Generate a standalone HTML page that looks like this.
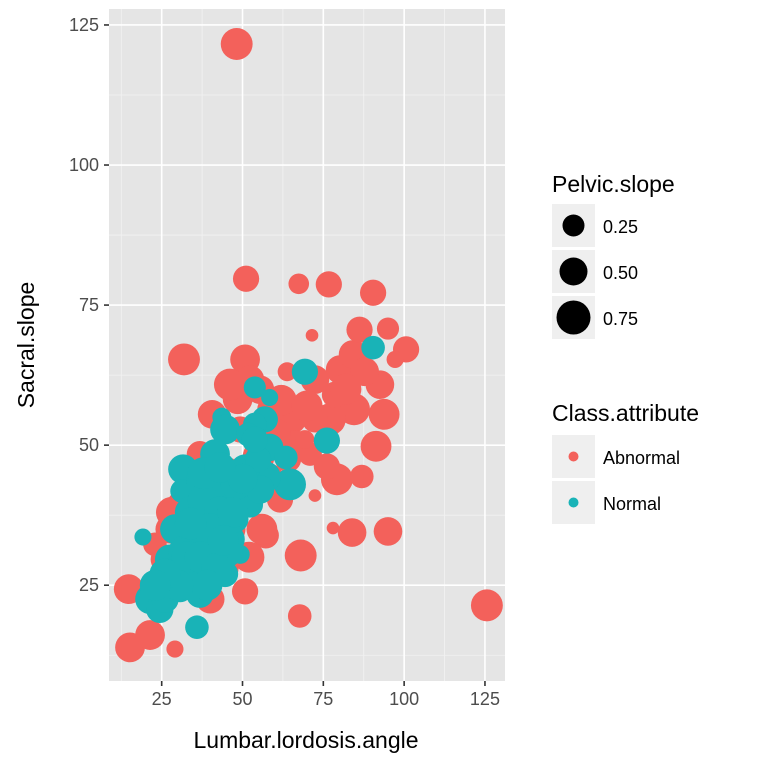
<!DOCTYPE html>
<html><head><meta charset="utf-8"><style>
body{margin:0;background:#fff;}
svg{display:block;font-family:"Liberation Sans",Arial,sans-serif;}
</style></head><body>
<svg id="chart" width="768" height="768" viewBox="0 0 768 768">
<rect x="0" y="0" width="768" height="768" fill="#fff"/>
<rect x="109" y="9" width="396" height="672" fill="#e5e5e5"/>
<g id="grid"></g>
<g id="pts"></g>
<g id="axes"></g>
<text x="306" y="748" font-size="23" text-anchor="middle" fill="#000">Lumbar.lordosis.angle</text>
<text transform="translate(34,345) rotate(-90)" font-size="23" text-anchor="middle" fill="#000">Sacral.slope</text>
<g>
<text x="552" y="192" font-size="23" fill="#000">Pelvic.slope</text>
<rect x="552" y="204" width="43" height="43" fill="#efefef"/>
<circle cx="573.5" cy="225.5" r="11" fill="#000"/>
<text x="603" y="233" font-size="18" fill="#000">0.25</text>
<rect x="552" y="250" width="43" height="43" fill="#efefef"/>
<circle cx="573.5" cy="271.5" r="14" fill="#000"/>
<text x="603" y="279" font-size="18" fill="#000">0.50</text>
<rect x="552" y="296" width="43" height="43" fill="#efefef"/>
<circle cx="573.5" cy="317.5" r="17" fill="#000"/>
<text x="603" y="325" font-size="18" fill="#000">0.75</text>
</g>
<g>
<text x="552" y="421" font-size="23" fill="#000">Class.attribute</text>
<rect x="552" y="435" width="43" height="43" fill="#efefef"/>
<circle cx="573.5" cy="456.5" r="5" fill="#f3615b"/>
<text x="603" y="464" font-size="18" fill="#000">Abnormal</text>
<rect x="552" y="481" width="43" height="43" fill="#efefef"/>
<circle cx="573.5" cy="502.5" r="5" fill="#19b3b7"/>
<text x="603" y="510" font-size="18" fill="#000">Normal</text>
</g>
</svg>
<script>
const xTicks=[25,50,75,100,125];
const yTicks=[25,50,75,100,125];
const xMinor=[12.5,37.5,62.5,87.5,112.5];
const yMinor=[12.5,37.5,62.5,87.5,112.5];
const redX=[48.2,51.1,67.4,76.7,90.4,71.5,95,100.6,31.9,125.6,68,67.7,83.9,95,78,50.8,29.1,15.2,14.8,21.4,72.4,91.3,93.8,92.5,79.2,86.9,76.1,84.5,77,72.4,80.2,84.2,87.8,78.6,65.3,64.1,66.2,70.9,63.8,59,50.8,48.5,52.3,40.6,46.1,55.4,64.7,61.6,57.2,41.2,30.7,27.5,26,22.9,69.3,49.3,40,33.7,86.2,97.2,72.4,36.8,45,55,60,42,50,58,35,28,62,70,82,56,46,38,44,52];
const redY=[121.6,79.7,78.8,78.7,77.2,69.6,70.8,67.1,65.3,21.4,30.3,19.5,34.4,34.6,35.2,23.9,13.6,13.9,24.3,16.1,41,49.8,55.5,60.8,43.9,44.4,46.2,56.4,54.6,61.7,63.5,66.2,63.1,59,54.6,47.5,50.1,48.4,63.1,56.4,65.3,58.2,61.7,55.5,60.8,59.9,42.1,40.3,33.9,32.1,39.4,35,29.6,32.3,51,52.8,22.5,27,70.6,65.3,54.6,48.4,45,48,52,38,42,44,42,38,58,57,60,35,35,30,28,30];
const redS=[0.65,0.4,0.2,0.4,0.4,0,0.25,0.4,0.65,0.65,0.65,0.3,0.5,0.5,0,0.4,0.1,0.55,0.55,0.55,0,0.6,0.6,0.5,0.65,0.3,0.4,0.65,0.65,0.5,0.5,0.5,0.5,0.4,0.5,0.4,0.5,0.3,0.15,0.5,0.55,0.55,0.5,0.5,0.65,0.5,0.15,0.4,0.4,0.4,0.4,0.5,0.5,0.3,0.15,0.4,0.5,0.5,0.4,0.1,0.4,0.4,0.65,0.65,0.65,0.6,0.65,0.6,0.6,0.6,0.6,0.6,0.6,0.6,0.65,0.65,0.6,0.6];
const normX=[90.4,69.3,76.1,53.8,58.4,56.9,53.8,43.6,44.6,51.7,58.4,63.4,64.7,56.9,31.6,31.3,19.2,21.4,24.4,35.9,36.8,30.7,27.5,36.8,41.5,46.1,50.8,36.8,41.5,46.1,40,35.3,30.7,47.6,52.3,49.3,44.6,54.8,29.1,26,41.5,53.8,55.4,34,38,43,48,32,36,40,45,28,33,37,42,47,39,44,50,34,30,26,23,38,43];
const normY=[67.4,63.1,50.8,60.3,58.5,54.6,53.7,55,52.8,51.9,49.6,47.8,43,44.3,45.7,41.8,33.6,22.5,20.7,17.5,23.4,28.7,29.6,33.2,36.8,40.3,45.7,43.9,42.1,33.2,29.6,27,24.3,36.8,39.4,30.5,27,47.5,35,22.5,48.4,51,42.1,38,40,38,43,31,34,35,31,27,30,30,28,38,25,33,44,36,25,27,25,45,46];
const normS=[0.3,0.4,0.4,0.25,0.1,0.4,0.3,0.15,0.55,0.3,0.45,0.3,0.65,0.65,0.55,0.3,0.1,0.55,0.45,0.3,0.45,0.55,0.55,0.65,0.65,0.65,0.55,0.45,0.65,0.55,0.55,0.45,0.4,0.45,0.4,0.15,0.4,0.4,0.55,0.45,0.55,0.4,0.5,0.65,0.65,0.65,0.6,0.65,0.65,0.65,0.65,0.6,0.65,0.65,0.6,0.6,0.6,0.6,0.55,0.65,0.6,0.6,0.6,0.65,0.6];
const X0=8.7,X1=131.2,Y0=7.9,Y1=127.85,L=109,R=505,T=9,B=681;
const sx=v=>L+(v-X0)/(X1-X0)*(R-L);
const sy=v=>B-(v-Y0)/(Y1-Y0)*(B-T);
const sr=v=>Math.sqrt(40+330*Math.max(0,v));
const NS='http://www.w3.org/2000/svg';
function mk(parent,tag,attrs){const e=document.createElementNS(NS,tag);for(const k in attrs)e.setAttribute(k,attrs[k]);parent.appendChild(e);return e;}
const grid=document.getElementById('grid');
xMinor.forEach(v=>{const l=mk(grid,'line',{x1:sx(v),x2:sx(v),y1:T,y2:B,stroke:'#f2f2f2','stroke-width':0.8});

});
yMinor.forEach(v=>{const l=mk(grid,'line',{x1:L,x2:R,y1:sy(v),y2:sy(v),stroke:'#f2f2f2','stroke-width':0.8});

});
xTicks.forEach(v=>{const l=mk(grid,'line',{x1:sx(v),x2:sx(v),y1:T,y2:B,stroke:'#fff','stroke-width':1.6});

});
yTicks.forEach(v=>{const l=mk(grid,'line',{x1:L,x2:R,y1:sy(v),y2:sy(v),stroke:'#fff','stroke-width':1.6});

});
const pts=document.getElementById('pts');
redX.forEach((v,i)=>{const c=mk(pts,'circle',{cx:sx(v),cy:sy(redY[i]),r:sr(redS[i]),fill:'#f3615b'});

});
normX.forEach((v,i)=>{const c=mk(pts,'circle',{cx:sx(v),cy:sy(normY[i]),r:sr(normS[i]),fill:'#19b3b7'});

});
const ax=document.getElementById('axes');
xTicks.forEach(v=>{mk(ax,'line',{x1:sx(v),x2:sx(v),y1:B,y2:B+5,stroke:'#333','stroke-width':1.6});
const t=mk(ax,'text',{x:sx(v),y:B+24,'font-size':18,'text-anchor':'middle',fill:'#4d4d4d'});t.textContent=v;

});
yTicks.forEach(v=>{mk(ax,'line',{x1:L-5,x2:L,y1:sy(v),y2:sy(v),stroke:'#333','stroke-width':1.6});
const t=mk(ax,'text',{x:L-10,y:sy(v)+6,'font-size':18,'text-anchor':'end',fill:'#4d4d4d'});t.textContent=v;

});
</script>
</body></html>
